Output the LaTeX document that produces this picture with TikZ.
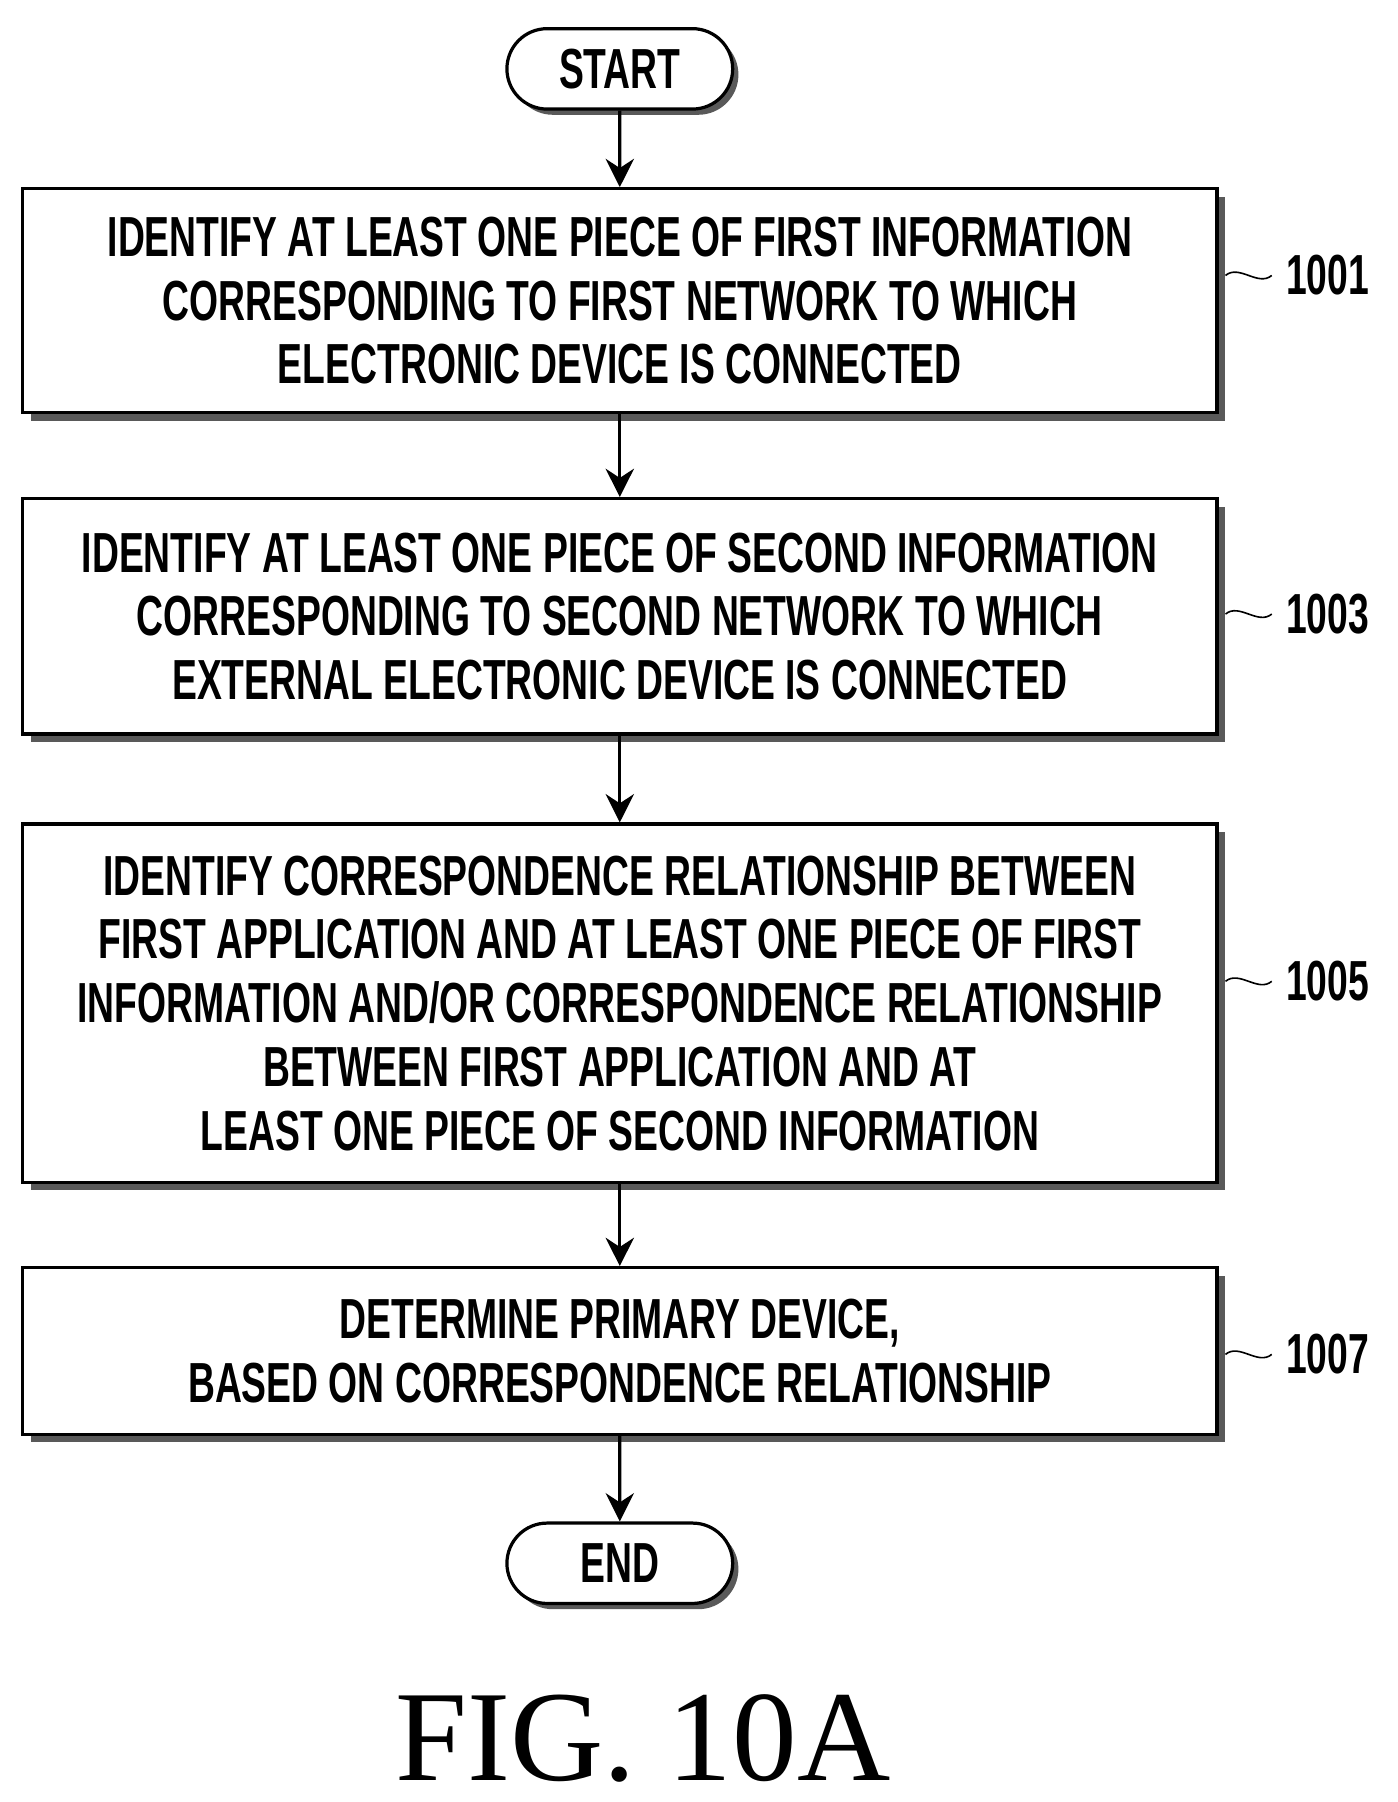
\documentclass[tikz,border=0pt]{standalone}
\usepackage{fontspec}
\setmainfont{Liberation Serif}
\newfontfamily\condfont[FakeStretch=0.66]{Liberation Sans}
\usetikzlibrary{positioning,shadows,shapes.misc,arrows.meta}

\tikzset{
  stepbox/.style={draw, thick, fill=white, minimum width=10.4cm, align=center,
    font=\condfont\bfseries\fontsize{14}{15.8}\selectfont,
    drop shadow={shadow xshift=0.07cm, shadow yshift=-0.07cm, fill=black!65, opacity=1}},
  term/.style={draw, thick, fill=white, rounded rectangle, minimum width=2.2cm, minimum height=0.7cm,
    font=\condfont\bfseries\fontsize{14}{15.8}\selectfont,
    drop shadow={shadow xshift=0.05cm, shadow yshift=-0.05cm, fill=black!65, opacity=1}},
  flow/.style={-{Stealth[length=7pt,width=7pt]}, thick},
  ref/.style={font=\condfont\bfseries\fontsize{14}{16}\selectfont, anchor=west}
}

\begin{document}
\begin{tikzpicture}[x=0.01cm,y=-0.01cm]
  \useasboundingbox (0,0) rectangle (1218,1570);

  \node[term] (start) at (540,60) {START};
  \node[stepbox, minimum height=1.95cm] (s1001) at (540,262) {IDENTIFY AT LEAST ONE PIECE OF FIRST INFORMATION\\CORRESPONDING TO FIRST NETWORK TO WHICH\\ELECTRONIC DEVICE IS CONNECTED};
  \node[stepbox, minimum height=2.05cm] (s1003) at (540,537) {IDENTIFY AT LEAST ONE PIECE OF SECOND INFORMATION\\CORRESPONDING TO SECOND NETWORK TO WHICH\\EXTERNAL ELECTRONIC DEVICE IS CONNECTED};
  \node[stepbox, minimum height=3.12cm] (s1005) at (540,874) {IDENTIFY CORRESPONDENCE RELATIONSHIP BETWEEN\\FIRST APPLICATION AND AT LEAST ONE PIECE OF FIRST\\INFORMATION AND/OR CORRESPONDENCE RELATIONSHIP\\BETWEEN FIRST APPLICATION AND AT\\LEAST ONE PIECE OF SECOND INFORMATION};
  \node[stepbox, minimum height=1.45cm] (s1007) at (540,1177) {DETERMINE PRIMARY DEVICE,\\BASED ON CORRESPONDENCE RELATIONSHIP};
  \node[term] (end) at (540,1362) {END};

  \node[font=\fontsize{32}{34}\selectfont] (fig) at (560,1515) {FIG.\ 10A};

  % reference labels
  \node[ref] (l1001) at (1108,240) {1001};
  \node[ref] (l1003) at (1108,535) {1003};
  \node[ref] (l1005) at (1108,855) {1005};
  \node[ref] (l1007) at (1108,1180) {1007};
  \foreach \s in {1001,1003,1005,1007}
    \draw (s\s.east |- l\s.west) ++(6,0) .. controls +(12,-10) and +(-12,10) .. (l\s.west);

  \draw[flow] (start) -- (s1001);
  \draw[flow] (s1001) -- (s1003);
  \draw[flow] (s1003) -- (s1005);
  \draw[flow] (s1005) -- (s1007);
  \draw[flow] (s1007) -- (end);
\end{tikzpicture}
\end{document}
